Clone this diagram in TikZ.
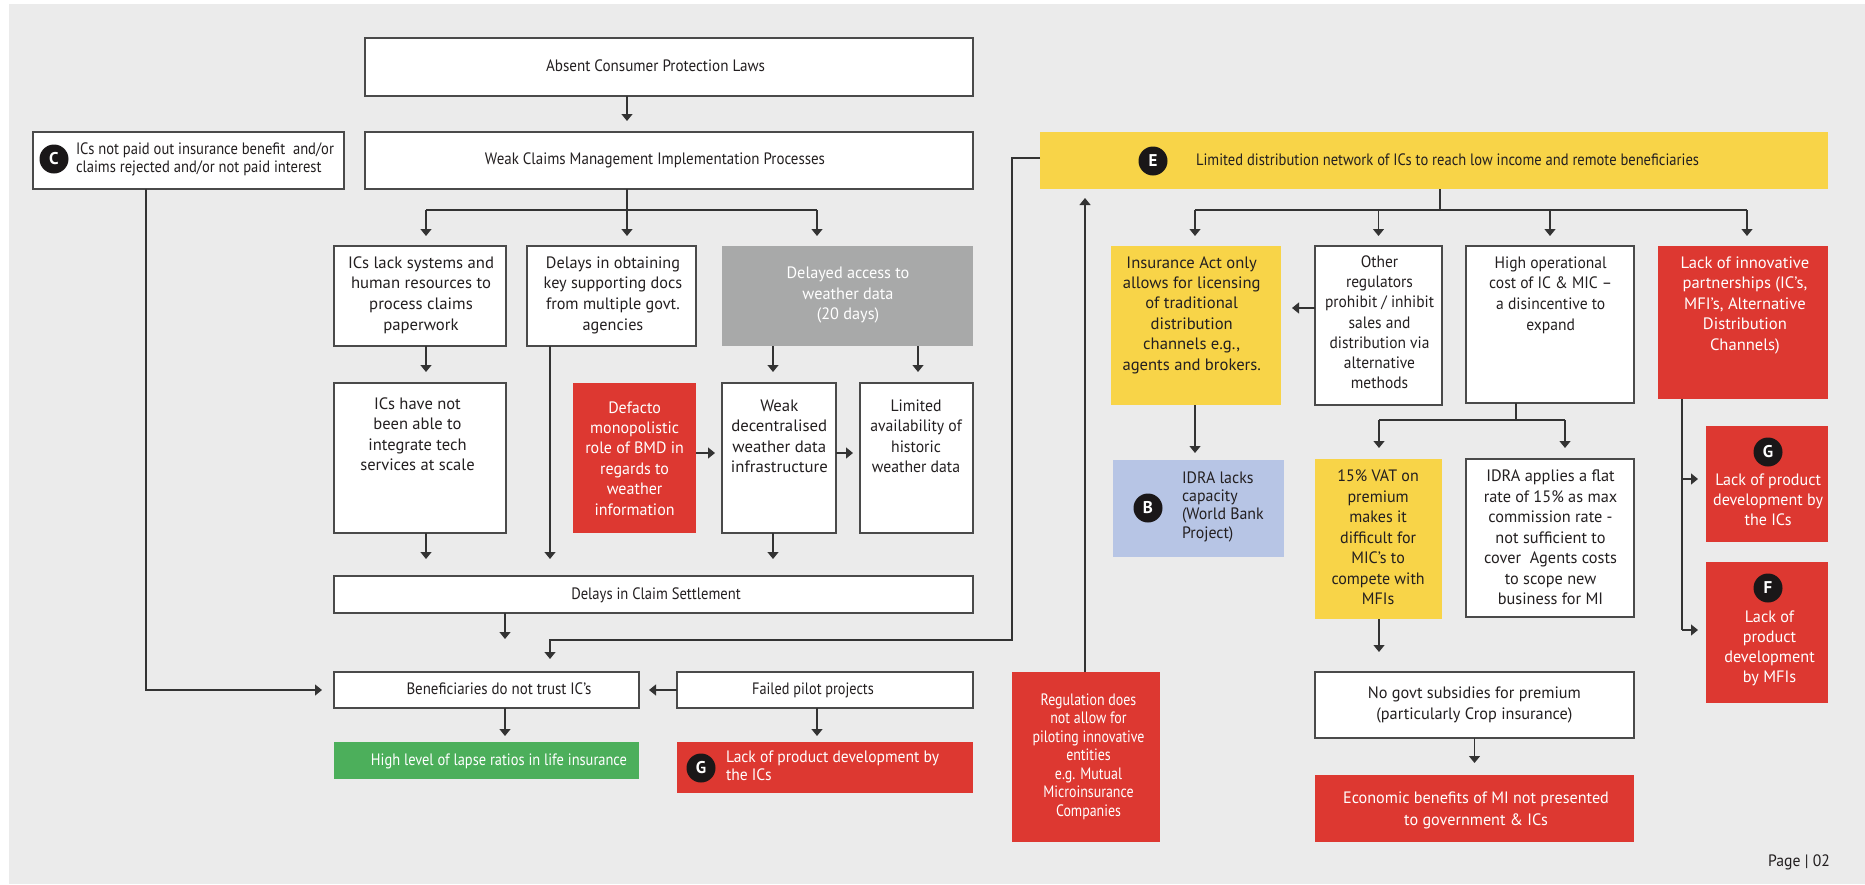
\documentclass[tikz,border=0pt]{standalone}
\usepackage{fontspec}
\usepackage{graphicx}
\setmainfont{PT Sans}
\usetikzlibrary{arrows.meta,fit}

% set a block of lines and stretch it horizontally to a given width (pt)
\newcommand{\fitlines}[3]{\resizebox{#1pt}{\height}{\begin{tabular}{@{}#2@{}}#3\end{tabular}}}

\definecolor{pagegray}{HTML}{EBEBEB}
\definecolor{boxline}{HTML}{4A4A4A}
\definecolor{linkcol}{HTML}{333333}
\definecolor{ink}{HTML}{231F20}
\definecolor{redbox}{HTML}{DD3831}
\definecolor{yellowbox}{HTML}{F8D448}
\definecolor{greenbox}{HTML}{4CAF5B}
\definecolor{bluebox}{HTML}{B7C5E5}
\definecolor{graybox}{HTML}{A8A9A9}
\definecolor{badgeblack}{HTML}{1A1718}

\begin{document}
\begin{tikzpicture}[x=1pt,y=-1pt,
  every node/.style={inner sep=0pt,outer sep=0pt},
  frame/.style={draw=boxline,line width=1.3pt,fill=white},
  redfill/.style={fill=redbox},
  yellowfill/.style={fill=yellowbox},
  greenfill/.style={fill=greenbox},
  bluefill/.style={fill=bluebox},
  grayfill/.style={fill=graybox},
  txt/.style={text=ink,font=\fontsize{16.5}{20.5}\selectfont},
  wtxt/.style={txt,text=white},
  lead/.style={font=\fontsize{16.5}{#1}\selectfont},
  badge/.style={circle,fill=badgeblack,text=white,minimum size=29pt,
    font=\fontsize{17}{17}\selectfont\bfseries},
  link/.style={draw=linkcol,line width=1.3pt},
  arr/.style={link,-{Triangle[width=11pt,length=7pt]}},
]
\useasboundingbox (0,0) rectangle (1865,884);
\fill[white] (0,0) rectangle (1865,884);
\fill[pagegray] (9,4) rectangle (1865,884);

% ---------- left block: claims ----------
\node[frame,fit={(365,38) (973,96)}] (A) {};
\node[txt] (At) at (655.5,67) {\fitlines{219}{c}{Absent Consumer Protection Laws}};

\node[frame,fit={(365,132) (973,189)}] (W) {};
\node[txt] (Wt) at (655,160) {\fitlines{340}{c}{Weak Claims Management Implementation Processes}};

\node[frame,fit={(33,132) (344,189)}] (C) {};
\node[badge] (bC) at (54,159) {C};
\node[txt,lead=17.7,anchor=west] (Ct) at (76,160)
  {\fitlines{258}{l}{ICs not paid out insurance benefit\ \ and/or\\claims rejected and/or not paid interest}};

\node[frame,fit={(334,246) (506,346)}] (L1) {};
\node[txt,lead=20.7] (L1t) at (421,295) {\fitlines{146}{c}{ICs lack systems and\\human resources to\\process claims\\paperwork}};

\node[frame,fit={(527,246) (696,346)}] (L2) {};
\node[txt,lead=20.7] (L2t) at (613,295) {\fitlines{138.6}{c}{Delays in obtaining\\key supporting docs\\from multiple govt.\\agencies}};

\node[grayfill,fit={(722,246) (973,346)}] (L3) {};
\node[wtxt,lead=20.3] (L3t) at (848,295) {\fitlines{122.8}{c}{Delayed access to\\weather data\\(20 days)}};

\node[frame,fit={(334,383) (506,533)}] (M1) {};
\node[txt,lead=20.3] (M1t) at (417.5,436) {\fitlines{114.3}{c}{ICs have not\\been able to\\integrate tech\\services at scale}};

\node[redfill,fit={(573,383) (696,533)}] (M2) {};
\node[wtxt,lead=20.4] (M2t) at (634.6,460) {\fitlines{98.7}{c}{Defacto\\monopolistic\\role of BMD in\\regards to\\weather\\information}};

\node[frame,fit={(722,383) (836,533)}] (M3) {};
\node[txt,lead=20.4] (M3t) at (779.3,438) {\fitlines{96.9}{c}{Weak\\decentralised\\weather data\\infrastructure}};

\node[frame,fit={(860,383) (973,533)}] (M4) {};
\node[txt,lead=20.4] (M4t) at (916,438) {\fitlines{91.5}{c}{Limited\\availability of\\historic\\weather data}};

\node[frame,fit={(334,576) (973,613)}] (D) {};
\node[txt] (Dt) at (656,595) {\fitlines{169.5}{c}{Delays in Claim Settlement}};

\node[frame,fit={(334,672) (639,708)}] (BT) {};
\node[txt] (BTt) at (499,690) {\fitlines{185}{c}{Beneficiaries do not trust IC’s}};

\node[frame,fit={(677,672) (973,708)}] (FP) {};
\node[txt] (FPt) at (813,690) {\fitlines{121.6}{c}{Failed pilot projects}};

\node[greenfill,fit={(334,742) (639,779)}] (HL) {};
\node[wtxt] (HLt) at (499,761) {\fitlines{256}{c}{High level of lapse ratios in life insurance}};

\node[redfill,fit={(677,742) (973,793)}] (G1) {};
\node[badge] (bG1) at (701,768) {G};
\node[wtxt,lead=18,anchor=west] (G1t) at (726,768)
  {\fitlines{213}{l}{Lack of product development by\\the ICs}};

% ---------- middle: regulation ----------
\node[redfill,fit={(1012,672) (1160,842)}] (R) {};
\node[wtxt,lead=18.5] (Rt) at (1088.5,757) {\fitlines{112}{c}{Regulation does\\not allow for\\piloting innovative\\entities\\e.g. Mutual\\Microinsurance\\Companies}};

% ---------- right block: distribution ----------
\node[yellowfill,fit={(1040,132) (1828,189)}] (E) {};
\node[badge] (bE) at (1153,161) {E};
\node[txt,anchor=west] (Et) at (1196,161)
  {\fitlines{503}{l}{Limited distribution network of ICs to reach low income and remote beneficiaries}};

\node[yellowfill,fit={(1111,246) (1281,405)}] (IA) {};
\node[txt,lead=20.4] (IAt) at (1191.7,315) {\fitlines{138.4}{c}{Insurance Act only\\allows for licensing\\of traditional\\distribution\\channels e.g.,\\agents and brokers.}};

\node[frame,fit={(1315,246) (1442,405)}] (OR) {};
\node[txt,lead=20.3] (ORt) at (1379.5,324) {\fitlines{109}{c}{Other\\regulators\\prohibit / inhibit\\sales and\\distribution via\\alternative\\methods}};

\node[frame,fit={(1466,246) (1634,403)}] (HO) {};
\node[txt,lead=20.7] (HOt) at (1550.7,295) {\fitlines{123}{c}{High operational\\cost of IC \& MIC –\\a disincentive to\\expand}};

\node[redfill,fit={(1658,246) (1828,399)}] (LI) {};
\node[wtxt,lead=20.5] (LIt) at (1744.9,305) {\fitlines{128.5}{c}{Lack of innovative\\partnerships (IC’s,\\MFI’s, Alternative\\Distribution\\Channels)}};

\node[bluefill,fit={(1113,460) (1284,557)}] (IB) {};
\node[badge] (bB) at (1148,508) {B};
\node[txt,lead=18.3,anchor=west] (IBt) at (1182,507) {\fitlines{81.7}{l}{IDRA lacks\\capacity\\(World Bank\\Project)}};

\node[yellowfill,fit={(1315,459) (1442,619)}] (VAT) {};
\node[txt,lead=20.5] (VATt) at (1378.1,539) {\fitlines{93.2}{c}{15\% VAT on\\premium\\makes it\\difficult for\\MIC’s to\\compete with\\MFIs}};

\node[frame,fit={(1466,459) (1634,617)}] (ID2) {};
\node[txt,lead=20.5] (ID2t) at (1550.5,539) {\fitlines{133.5}{c}{IDRA applies a flat\\rate of 15\% as max\\commission rate -\\not sufficient to\\cover\ \ Agents costs\\to scope new\\business for MI}};

\node[frame,fit={(1315,672) (1634,738)}] (NG) {};
\node[txt,lead=21] (NGt) at (1474.4,705) {\fitlines{213}{c}{No govt subsidies for premium\\(particularly Crop insurance)}};

\node[redfill,fit={(1315,775) (1634,842)}] (EB) {};
\node[wtxt,lead=22] (EBt) at (1476,810) {\fitlines{265.8}{c}{Economic benefits of MI not presented\\to government \& ICs}};

\node[redfill,fit={(1706,426) (1828,542)}] (G2) {};
\node[badge] (bG2) at (1768,452) {G};
\node[wtxt,lead=20] (G2t) at (1768.1,501) {\fitlines{109.8}{c}{Lack of product\\development by\\the ICs}};

\node[redfill,fit={(1706,562) (1828,703)}] (F) {};
\node[badge] (bF) at (1768,588) {F};
\node[wtxt,lead=20] (Ft) at (1769.5,648) {\fitlines{90.5}{c}{Lack of\\product\\development\\by MFIs}};

\node[txt] (pg) at (1799,862) {\fitlines{61.7}{c}{Page | 02}};

% ---------- guide coordinates for the connectors ----------
\coordinate (aw) at (627,0);
\coordinate (wJ) at (627,210);
\coordinate (wL) at (426,210);
\coordinate (wR) at (817,210);
\coordinate (gL2) at (550,0);
\coordinate (gM3) at (773,0);
\coordinate (gM4) at (918,0);
\coordinate (hM) at (0,453);
\coordinate (dEnd) at (505,639);
\coordinate (gBT) at (505,0);
\coordinate (gFP) at (817,0);
\coordinate (gC) at (146,0);
\coordinate (eTurn) at (1012,640);
\coordinate (eDrop) at (550,640);
\coordinate (gR) at (1085,0);
\coordinate (eJ) at (1440,210);
\coordinate (eL) at (1195,210);
\coordinate (eR) at (1747,210);
\coordinate (hOR) at (0,308);
\coordinate (hJ) at (1516,420);
\coordinate (hL) at (1379,420);
\coordinate (hR) at (1565,420);
\coordinate (lJ) at (1682,479);
\coordinate (lK) at (1682,630);

% ---------- connectors: claims ----------
\draw[arr,shorten >=11pt] (A.south -| aw) -- (W.north -| aw);
\draw[link] (W.south -| wJ) -- (wJ);
\draw[link] (wL) -- (wR);
\draw[arr,shorten >=10pt] (wL) -- (wL |- L1.north);
\draw[arr,shorten >=10pt] (wJ) -- (wJ |- L2.north);
\draw[arr,shorten >=10pt] (wR) -- (wR |- L3.north);
\draw[arr,shorten >=11pt] (wL |- L1.south) -- (wL |- M1.north);
\draw[arr,shorten >=11pt] (gM3 |- L3.south) -- (gM3 |- M3.north);
\draw[arr,shorten >=11pt] (gM4 |- L3.south) -- (gM4 |- M4.north);
\draw[arr,shorten >=7pt] (M2.east |- hM) -- (M3.west |- hM);
\draw[arr,shorten >=7pt] (M3.east |- hM) -- (M4.west |- hM);
\draw[arr,shorten >=17pt] (gL2 |- L2.south) -- (gL2 |- D.north);
\draw[arr,shorten >=17pt] (wL |- M1.south) -- (wL |- D.north);
\draw[arr,shorten >=17pt] (gM3 |- M3.south) -- (gM3 |- D.north);
\draw[arr] (D.south -| dEnd) -- (dEnd);
\draw[arr,shorten >=13pt] ([yshift=2.5pt]E.west) -| (eTurn) -- (eDrop) -- (eDrop |- BT.north);
\draw[arr,shorten >=12pt] (gC |- C.south) |- (BT.west);
\draw[arr,shorten >=10pt] (FP.west) -- (BT.east);
\draw[arr,shorten >=6pt] (gBT |- BT.south) -- (gBT |- HL.north);
\draw[arr,shorten >=6pt] (gFP |- FP.south) -- (gFP |- G1.north);

% ---------- connectors: distribution ----------
\draw[arr,shorten >=9pt] (gR |- R.north) -- (gR |- E.south);
\draw[link] (E.south -| eJ) -- (eJ);
\draw[link] (eL) -- (eR);
\draw[arr,shorten >=10pt] (eL) -- (eL |- IA.north);
\draw[arr,shorten >=10pt] (OR.north |- eJ) -- (OR.north);
\draw[arr,shorten >=10pt] (HO.north |- eJ) -- (HO.north);
\draw[arr,shorten >=10pt] (eR) -- (eR |- LI.north);
\draw[arr,shorten >=11pt] (OR.west |- hOR) -- (IA.east |- hOR);
\draw[arr,shorten >=7pt] (eL |- IA.south) -- (eL |- IB.north);
\draw[link] (HO.south -| hJ) -- (hJ);
\draw[link] (hL) -- (hR);
\draw[arr,shorten >=11pt] (hL) -- (hL |- VAT.north);
\draw[arr,shorten >=11pt] (hR) -- (hR |- ID2.north);
\draw[arr,shorten >=20pt] (hL |- VAT.south) -- (hL |- NG.north);
\draw[arr,shorten >=12pt] (NG.south) -- (EB.north);
\draw[link] (LI.south -| lJ) -- (lK);
\draw[arr,shorten >=8pt] (lJ) -- (lJ -| G2.west);
\draw[arr,shorten >=8pt] (lK) -- (lK -| F.west);
\end{tikzpicture}
\end{document}
